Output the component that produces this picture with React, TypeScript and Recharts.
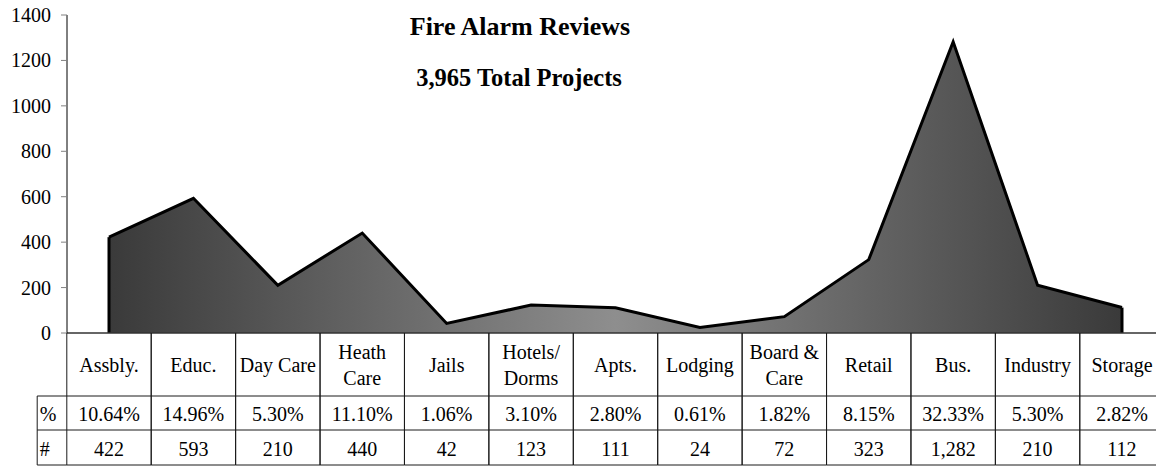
import { Area, AreaChart, ReferenceLine, XAxis, YAxis } from "recharts"

const categories = [
  "Assbly.",
  "Educ.",
  "Day Care",
  "Heath\nCare",
  "Jails",
  "Hotels/\nDorms",
  "Apts.",
  "Lodging",
  "Board &\nCare",
  "Retail",
  "Bus.",
  "Industry",
  "Storage",
]
const counts = [422, 593, 210, 440, 42, 123, 111, 24, 72, 323, 1282, 210, 112]
const percents = [
  "10.64%", "14.96%", "5.30%", "11.10%", "1.06%", "3.10%", "2.80%",
  "0.61%", "1.82%", "8.15%", "32.33%", "5.30%", "2.82%",
]
const yTicks = [0, 200, 400, 600, 800, 1000, 1200, 1400]
const title = "Fire Alarm Reviews"
const subtitle = "3,965 Total Projects"

const chartData = categories.map((name, i) => ({ name, count: counts[i], pct: percents[i] }))

const FONT = "Liberation Serif"
const COL_W = 84.4
const LINE = "#1a1a1a"

// each x tick draws one column of the data table under the plot
function TableTick(props: any) {
  const { x, y, payload, index } = props
  const lines = String(payload.value).split("\n")
  const left = x - COL_W / 2
  const right = x + COL_W / 2
  const rowA = y + 63
  const rowB = y + 97
  const rowC = y + 132
  const row = chartData[index]
  return (
    <g fontFamily={FONT} fontSize={20} fill="#000">
      <line x1={left} y1={y} x2={left} y2={rowC} stroke={LINE} />
      <line x1={right} y1={y} x2={right} y2={rowC} stroke={LINE} />
      <line x1={left} y1={rowA} x2={right} y2={rowA} stroke={LINE} />
      <line x1={left} y1={rowB} x2={right} y2={rowB} stroke={LINE} />
      <line x1={left} y1={rowC} x2={right} y2={rowC} stroke={LINE} />
      {lines.length === 1 ? (
        <text x={x} y={y + 39} textAnchor="middle">{lines[0]}</text>
      ) : (
        lines.map((l, i) => (
          <text key={i} x={x} y={y + 26 + i * 26} textAnchor="middle">{l}</text>
        ))
      )}
      <text x={x} y={rowA + 25} textAnchor="middle">{row.pct}</text>
      <text x={x} y={rowB + 26} textAnchor="middle">{row.count.toLocaleString("en-US")}</text>
      {index === 0 && (
        <g>
          <line x1={left - 29.6} y1={rowA} x2={left - 29.6} y2={rowC} stroke={LINE} />
          <line x1={left - 29.6} y1={rowA} x2={left} y2={rowA} stroke={LINE} />
          <line x1={left - 29.6} y1={rowB} x2={left} y2={rowB} stroke={LINE} />
          <line x1={left - 29.6} y1={rowC} x2={left} y2={rowC} stroke={LINE} />
          <text x={left - 27} y={rowA + 25}>%</text>
          <text x={left - 27} y={rowB + 26}>#</text>
        </g>
      )}
    </g>
  )
}

function YTick(props: any) {
  const { x, y, payload } = props
  return (
    <text x={x} y={y + 7} textAnchor="end" fontFamily={FONT} fontSize={20} fill="#000">
      {payload.value}
    </text>
  )
}

export default function App() {
  const first = categories[0]
  const last = categories[categories.length - 1]
  return (
    <div
      style={{
        position: "absolute",
        left: 0,
        top: 0,
        width: 1156,
        height: 468,
        background: "#fff",
        fontFamily: FONT,
      }}
    >
      <AreaChart
        width={1156}
        height={468}
        data={chartData}
        margin={{ top: 15, right: 0, left: 0, bottom: 3 }}
      >
        <defs>
          <linearGradient id="fillGrad" x1="0" y1="0" x2="1" y2="0">
            <stop offset="0%" stopColor="#3a3a3a" />
            <stop offset="50%" stopColor="#8e8e8e" />
            <stop offset="100%" stopColor="#3a3a3a" />
          </linearGradient>
        </defs>
        <XAxis
          dataKey="name"
          interval={0}
          tickSize={0}
          tickMargin={0}
          tickLine={false}
          height={132}
          padding={{ left: 42, right: 34 }}
          axisLine={{ stroke: "#333", strokeWidth: 1.5 }}
          tick={<TableTick />}
        />
        <YAxis
          width={67}
          domain={[0, 1400]}
          ticks={yTicks}
          interval={0}
          tickSize={6}
          tickMargin={10}
          axisLine={{ stroke: "#000" }}
          tickLine={{ stroke: "#808080" }}
          tick={<YTick />}
        />
        <Area
          type="linear"
          dataKey="count"
          stroke="#000"
          strokeWidth={3}
          fill="url(#fillGrad)"
          fillOpacity={1}
          isAnimationActive={false}
        />
        <ReferenceLine
          segment={[{ x: first, y: 0 }, { x: first, y: counts[0] }]}
          stroke="#000"
          strokeWidth={3}
        />
        <ReferenceLine
          segment={[{ x: last, y: 0 }, { x: last, y: counts[counts.length - 1] }]}
          stroke="#000"
          strokeWidth={3}
        />
      </AreaChart>
      <svg
        width={1156}
        height={100}
        style={{ position: "absolute", left: 0, top: 0, pointerEvents: "none" }}
      >
        <text x={520} y={35} textAnchor="middle" fontFamily={FONT} fontWeight="bold" fontSize={26}>
          {title}
        </text>
        <text x={519} y={86} textAnchor="middle" fontFamily={FONT} fontWeight="bold" fontSize={24.5}>
          {subtitle}
        </text>
      </svg>
    </div>
  )
}
